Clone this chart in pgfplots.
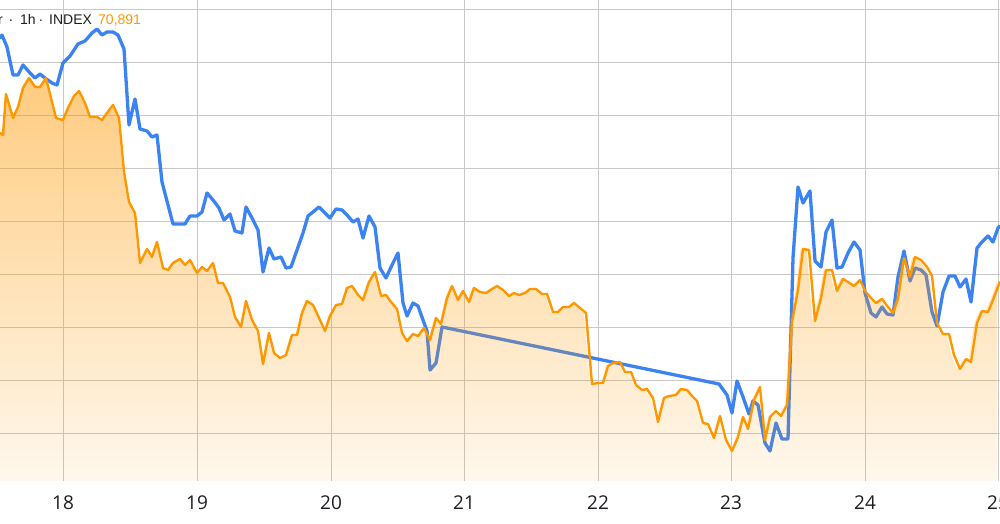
\documentclass[border=0pt]{standalone}
\usepackage{pgfplots}
\pgfplotsset{compat=1.18}
\usepackage{pgfplotstable}
\usepackage{fontspec}
\setmainfont{Open Sans}
\newfontfamily\hdr{Liberation Sans}
\usetikzlibrary{fadings}
\definecolor{blueL}{RGB}{59,130,242}
\definecolor{orangeL}{RGB}{255,152,0}
\definecolor{gridC}{RGB}{200,200,200}
\definecolor{txtC}{RGB}{30,30,34}
\tikzfading[name=areafade, top color=transparent!50, bottom color=transparent!93]

\pgfplotstableread{
x y
0 38
2 35
7 47
13 75
18 75
23 65
30 73
35 78
40 74
45 78
52 83
57 85
63 63
70 56
78 44
85 41
92 33
97 29
102 35
107 32
113 32
118 35
124 49
129 125
135 99
140 129
147 131
152 137
157 135
162 182
173 224
185 224
190 216
197 216
202 212
207 193
213 200
219 208
224 220
230 214
235 231
242 233
246 207
252 218
258 230
263 272
269 248
274 259
281 257
286 268
291 267
297 250
303 233
308 216
313 212
319 207
324 212
330 218
336 209
342 210
347 215
353 222
358 219
363 238
369 216
375 227
380 268
386 278
392 265
398 253
403 303
407 316
413 303
418 306
423 320
427 331
430 370
436 363
442 327
719 384
727 395
732 413
737 381
743 397
749 414
753 401
758 405
765 443
770 451
776 423
782 439
788 439
793 258
798 187
803 203
810 191
815 261
821 267
826 232
832 220
837 268
842 267
848 253
854 242
860 250
865 293
871 313
876 317
882 307
887 314
893 315
898 277
904 251
910 281
915 268
921 270
926 275
932 312
937 326
943 292
949 276
955 276
960 287
966 279
971 302
977 248
982 242
988 236
993 242
998 228
1000 226
}\blueData

\pgfplotstableread{
x y
0 133
3 135
6 94
13 118
18 107
23 88
29 78
35 87
40 87
46 78
51 98
56 118
63 120
68 108
74 96
79 91
85 103
90 117
97 117
102 120
107 113
113 105
119 118
124 172
129 202
135 213
140 263
147 249
152 257
157 242
163 268
168 270
173 263
180 259
185 265
190 260
197 273
202 267
207 271
213 263
218 283
223 283
230 297
235 317
241 327
246 301
252 320
258 331
263 364
269 333
274 353
280 358
286 355
292 335
297 335
302 313
307 301
313 305
319 318
325 331
330 316
336 305
342 304
347 288
352 286
358 295
363 300
369 282
375 272
381 296
386 295
391 302
397 309
402 333
407 341
413 334
418 336
424 328
430 340
436 318
441 324
447 298
452 286
458 300
463 291
469 302
474 288
480 292
486 293
492 289
497 286
503 290
509 296
514 293
519 295
525 293
530 289
536 289
542 294
547 294
553 312
558 312
563 307
569 307
574 303
580 308
586 313
592 384
598 383
603 383
608 366
613 363
620 362
625 372
631 372
636 385
642 390
647 389
653 398
658 422
664 398
669 396
676 395
681 389
687 390
692 396
697 401
703 423
708 424
714 438
720 416
726 440
732 451
738 437
743 417
748 429
754 400
760 387
765 440
770 417
776 411
781 416
787 405
792 322
798 290
803 249
809 250
815 321
821 298
826 270
832 270
837 291
843 279
848 282
854 286
860 280
865 291
871 298
876 303
882 299
888 307
893 313
898 299
904 258
910 277
915 257
921 260
927 267
932 276
937 323
943 334
949 334
954 355
960 369
966 359
971 362
977 323
982 311
988 312
993 300
999 284
1000 282
}\orangeData

\begin{document}
\begin{tikzpicture}
\useasboundingbox (0pt,0pt) rectangle (1000pt,524pt);
\begin{axis}[
  at={(0pt,43pt)}, anchor=south west,
  scale only axis, width=1000pt, height=481pt,
  xmin=0, xmax=1000, ymin=0, ymax=481,
  axis line style={draw=none},
  tick style={draw=none},
  xtick={63,197,331,464,598,731,865,998},
  xticklabels={18,19,20,21,22,23,24,25},
  ytick={48,101,154,207,260,313,366,419,472},
  yticklabels={},
  grid=major,
  major grid style={gridC, line width=0.9pt},
  xticklabel style={anchor=base, yshift=-28pt, font=\fontsize{19}{19}\selectfont, text=txtC},
  clip=true,
]
\addplot[blueL, line width=3.3pt, line join=round, line cap=round]
  table[x=x, y expr=481-\thisrow{y}] {\blueData};
\addplot[draw=none, fill=orangeL, path fading=areafade]
  table[x=x, y expr=481-\thisrow{y}] {\orangeData} \closedcycle;
\addplot[orangeL, line width=2.4pt, line join=round, line cap=round]
  table[x=x, y expr=481-\thisrow{y}] {\orangeData};
\end{axis}
\node[anchor=base east, inner sep=0pt, font=\hdr\fontsize{14}{14}\selectfont, text=txtC] at (3pt,499pt) {r};
\node[anchor=base, inner sep=0pt, font=\hdr\fontsize{14}{14}\selectfont, text=txtC] at (11pt,499pt) {·};
\node[anchor=base west, inner sep=0pt, font=\hdr\fontsize{14}{14}\selectfont, text=txtC] at (20pt,499pt) {1h};
\node[anchor=base, inner sep=0pt, font=\hdr\fontsize{14}{14}\selectfont, text=txtC] at (41pt,499pt) {·};
\node[anchor=base west, inner sep=0pt, font=\hdr\fontsize{14}{14}\selectfont, text=txtC] at (49pt,499pt) {INDEX};
\node[anchor=base west, inner sep=0pt, font=\hdr\fontsize{14}{14}\selectfont, text=orangeL] at (98pt,499pt) {70,891};
\end{tikzpicture}
\end{document}
